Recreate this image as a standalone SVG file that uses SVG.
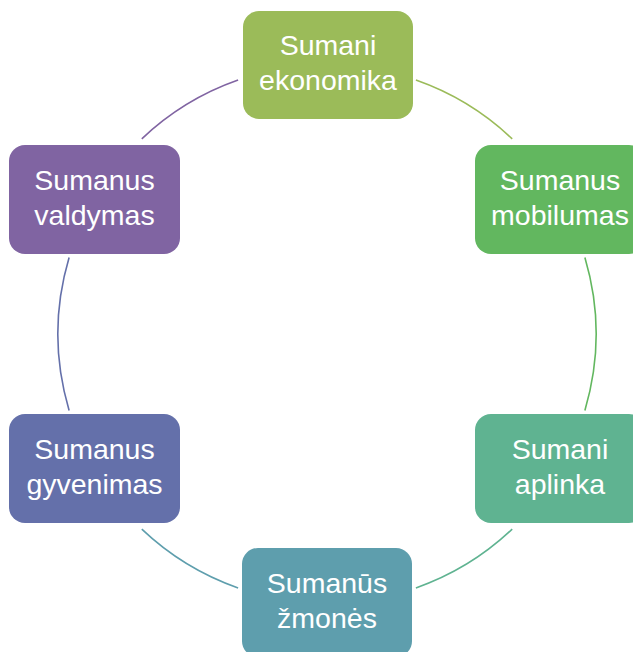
<svg xmlns="http://www.w3.org/2000/svg" width="633" height="652" viewBox="0 0 633 652">
<style>
.box{stroke:none}
.t{font-family:"Liberation Sans",Arial,sans-serif;font-size:28.5px;fill:#ffffff;text-anchor:middle}
.arc{fill:none;stroke-width:1.6}
</style>
<rect width="633" height="652" fill="#ffffff"/>
<g id="connectors">
<path class="arc" stroke="#9BBB59" d="M415.9,80.1 A269,269 0 0 1 512.2,138.9"/>
<path class="arc" stroke="#62B75F" d="M584.9,257.6 A269,269 0 0 1 584.9,410.4"/>
<path class="arc" stroke="#5FB391" d="M512.2,529.1 A269,269 0 0 1 415.9,587.9"/>
<path class="arc" stroke="#5E9EAD" d="M238.1,587.9 A269,269 0 0 1 141.8,529.1"/>
<path class="arc" stroke="#6470AA" d="M69.1,410.4 A269,269 0 0 1 69.1,257.6"/>
<path class="arc" stroke="#8064A2" d="M141.8,138.9 A269,269 0 0 1 238.1,80.1"/>
</g>
<g id="node-ekonomika">
<rect class="box" x="243" y="11" width="170" height="108" rx="16" fill="#9BBB59"/>
<text class="t" x="328" y="55">Sumani</text>
<text class="t" x="328" y="90">ekonomika</text>
</g>
<g id="node-mobilumas">
<rect class="box" x="475" y="145" width="170" height="109" rx="16" fill="#62B75F"/>
<text class="t" x="560" y="190">Sumanus</text>
<text class="t" x="560" y="225">mobilumas</text>
</g>
<g id="node-aplinka">
<rect class="box" x="475" y="414" width="170" height="109" rx="16" fill="#5FB391"/>
<text class="t" x="560" y="459">Sumani</text>
<text class="t" x="560" y="494">aplinka</text>
</g>
<g id="node-zmones">
<rect class="box" x="242" y="548" width="170" height="109" rx="16" fill="#5E9EAD"/>
<text class="t" x="327" y="593">Sumanūs</text>
<text class="t" x="327" y="628">žmonės</text>
</g>
<g id="node-gyvenimas">
<rect class="box" x="9" y="414" width="171" height="109" rx="16" fill="#6470AA"/>
<text class="t" x="94.5" y="459">Sumanus</text>
<text class="t" x="94.5" y="494">gyvenimas</text>
</g>
<g id="node-valdymas">
<rect class="box" x="9" y="145" width="171" height="109" rx="16" fill="#8064A2"/>
<text class="t" x="94.5" y="190">Sumanus</text>
<text class="t" x="94.5" y="225">valdymas</text>
</g>
</svg>
